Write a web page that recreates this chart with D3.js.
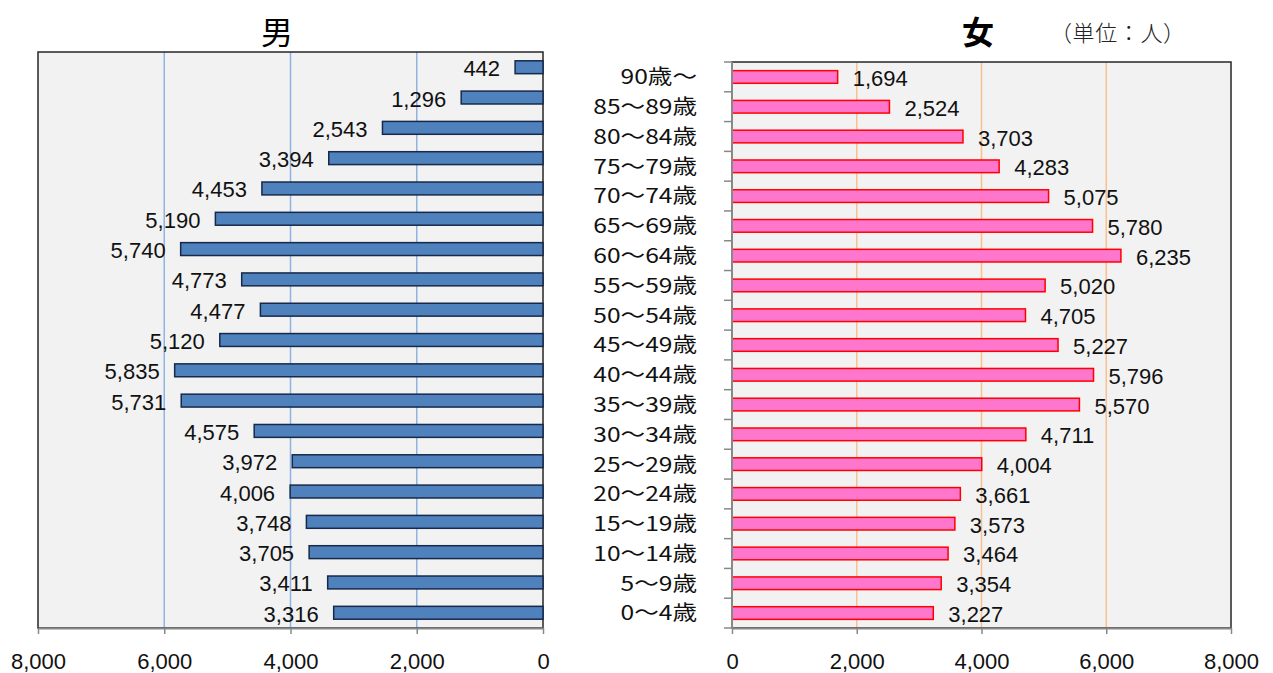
<!DOCTYPE html>
<html><head><meta charset="utf-8">
<script src="https://cdn.jsdelivr.net/npm/d3@7"></script>
<style>
body{margin:0;background:#fff;}
svg{display:block;}
text{font-family:"Noto Sans CJK JP","Liberation Sans",sans-serif;}
</style></head><body>
<svg id="chart" width="1273" height="673"></svg>
<script>
// Age groups, oldest at top
const ageGroups = ["90歳～","85～89歳","80～84歳","75～79歳","70～74歳","65～69歳","60～64歳","55～59歳","50～54歳","45～49歳","40～44歳","35～39歳","30～34歳","25～29歳","20～24歳","15～19歳","10～14歳","5～9歳","0～4歳"];
const maleValues = [442,1296,2543,3394,4453,5190,5740,4773,4477,5120,5835,5731,4575,3972,4006,3748,3705,3411,3316];
const femaleValues = [1694,2524,3703,4283,5075,5780,6235,5020,4705,5227,5796,5570,4711,4004,3661,3573,3464,3354,3227];
const xTicks = [0,2000,4000,6000,8000];

const svg = d3.select("#chart");
const fmt = d3.format(",");
const labelFont = "'Liberation Sans',Arial,sans-serif";

function panel(opts){
  const {values, left, right, top, bottom, reversed, fill, stroke, grid, showCats} = opts;
  const x = d3.scaleLinear().domain([0,8000]).range(reversed ? [right,left] : [left,right]);
  const y = d3.scaleBand().domain(ageGroups).range([top,bottom]).paddingInner(0.575).paddingOuter(0.29);
  const g = svg.append("g");
  g.append("rect").attr("x",left).attr("y",top).attr("width",right-left).attr("height",bottom-top).attr("fill","#f2f2f2");
  // gridlines
  g.selectAll(".grid").data(xTicks.filter(t=>t>0 && t<8000)).join("line")
    .attr("x1",d=>x(d)).attr("x2",d=>x(d)).attr("y1",top).attr("y2",bottom)
    .attr("stroke",grid).attr("stroke-width",1.5);
  // frame
  g.append("rect").attr("x",left).attr("y",top).attr("width",right-left).attr("height",bottom-top)
    .attr("fill","none").attr("stroke","#262626").attr("stroke-width",1.5);
  // bars
  g.selectAll(".bar").data(values).join("rect")
    .attr("x",d=>reversed ? x(d) : x(0))
    .attr("width",d=>Math.abs(x(d)-x(0)))
    .attr("y",(d,i)=>y(ageGroups[i]))
    .attr("height",y.bandwidth())
    .attr("fill",fill).attr("stroke",stroke).attr("stroke-width",1.5);
  // value labels
  g.selectAll(".val").data(values).join("text")
    .attr("x",d=>reversed ? x(d)-15 : x(d)+15)
    .attr("y",(d,i)=>y(ageGroups[i])+y.bandwidth()/2+1.5)
    .attr("text-anchor",reversed ? "end" : "start")
    .attr("dominant-baseline","central")
    .style("font-family",labelFont).style("font-size","22px").attr("fill","#111")
    .text(d=>fmt(d));
  // bottom axis
  const ax = g.append("g").attr("transform",`translate(0,${bottom})`)
    .call(d3.axisBottom(x).tickValues(xTicks).tickFormat(fmt).tickSize(6).tickSizeOuter(0));
  ax.select(".domain").attr("stroke","#888").attr("stroke-width",2);
  ax.selectAll(".tick line").attr("stroke","#888").attr("stroke-width",1.5);
  ax.selectAll(".tick text").attr("dy",0).attr("y",41).style("font-family",labelFont).style("font-size","22px").attr("fill","#111");
  if(showCats){
    const yb = d3.scaleBand().domain(ageGroups).range([top,bottom]);
    const ay = g.append("g").attr("transform",`translate(${left},0)`)
      .call(d3.axisLeft(y).tickSize(0).tickPadding(35));
    ay.select(".domain").remove();
    // category names drawn slightly widened to suit the tall label font
    ay.selectAll(".tick text").attr("x",0).attr("dy","0.36em")
      .attr("transform","translate(-35,0) scale(1.2,1)")
      .style("font-size","20.5px").attr("fill","#111");
    g.append("line").attr("x1",left).attr("x2",left).attr("y1",top).attr("y2",bottom).attr("stroke","#888").attr("stroke-width",2);
    g.selectAll(".ctick").data(ageGroups.concat(["end"])).join("line")
      .attr("x1",left-8).attr("x2",left)
      .attr("y1",(d,i)=>i<ageGroups.length ? yb(d) : bottom)
      .attr("y2",(d,i)=>i<ageGroups.length ? yb(d) : bottom)
      .attr("stroke","#888").attr("stroke-width",1.5);
  }
}

panel({values:maleValues,left:38,right:543,top:52,bottom:628,reversed:true,
  fill:"#4f81bd",stroke:"#17294a",grid:"#8db4e2",showCats:false});
panel({values:femaleValues,left:732,right:1231,top:62,bottom:628,reversed:false,
  fill:"#ff77cc",stroke:"#ff0000",grid:"#fac090",showCats:true});

svg.append("text").attr("x",277).attr("y",44).attr("text-anchor","middle")
  .style("font-size","32px").attr("fill","#000").text("男");
svg.append("text").attr("x",978).attr("y",44).attr("text-anchor","middle")
  .style("font-size","32px").style("font-weight","bold").attr("fill","#000").text("女");
svg.append("text").attr("x",1050).attr("y",41).attr("text-anchor","start")
  .attr("textLength",135).attr("lengthAdjust","spacing")
  .style("font-size","22px").style("font-weight","300").attr("fill","#222").text("（単位：人）");
</script>
</body></html>
